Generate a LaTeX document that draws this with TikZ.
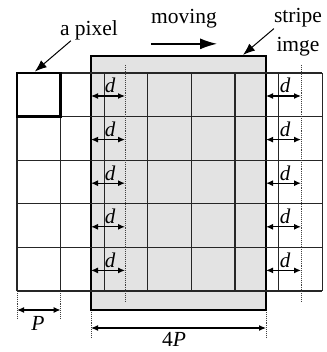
\documentclass[tikz,border=0pt]{standalone}
\usepackage{fontspec}
\setmainfont{Liberation Serif}
\usetikzlibrary{arrows.meta,positioning,calc}

\begin{document}
\begin{tikzpicture}[x=1pt,y=-1pt,>=Latex,
  lbl/.style={font=\fontsize{21.5}{29}\selectfont,inner sep=0pt,align=center},
  dlbl/.style={font=\fontsize{21}{24}\selectfont\itshape,inner sep=0pt,anchor=base},
  cellline/.style={draw=black!85,line width=1.1pt},
  guide/.style={densely dotted,draw=black!75,line width=.9pt},
  dimarr/.style={<->,>={Latex[length=7pt,width=6pt]},line width=1.2pt},
  ptr/.style={->,>={Latex[length=12pt,width=9pt]},line width=1pt}]
\definecolor{stripegray}{gray}{0.89}
\useasboundingbox (0,0) rectangle (326,352);
% stripe image under the grid
\node[draw,line width=2.2pt,fill=stripegray,minimum width=175pt,minimum height=254pt,inner sep=0pt] (strip) at (178.5,183) {};
% pixel grid, 7 x 5 cells of size P
\foreach \i in {0,...,7} \draw[cellline] (17+43.6*\i,73) -- (17+43.6*\i,291);
\foreach \j in {0,...,5} \draw[cellline] (17,73+43.6*\j) -- (322.2,73+43.6*\j);
\node[draw,line width=2.8pt,minimum size=43.6pt,inner sep=0pt] (px) at (38.8,94.8) {};
% shift d in every row
\draw[guide] (125,65) -- (125,301);
\draw[guide] (301,65) -- (301,301);
\foreach \r in {0,...,4} {
  \draw[dimarr] (91,96+43.6*\r) -- (125,96+43.6*\r);
  \node[dlbl] (dl\r) at (110,93+43.6*\r) {d};
  \draw[dimarr] (266,96+43.6*\r) -- (301,96+43.6*\r);
  \node[dlbl] (dr\r) at (285,93+43.6*\r) {d};
}
% sizes
\draw[guide] (17,293) -- (17,318);
\draw[guide] (60.6,293) -- (60.6,318);
\draw[dimarr] (17,310) -- (60.6,310);
\node[lbl,font=\fontsize{21.5}{24}\selectfont\itshape] (p) at (38,323) {P};
\draw[guide] (91,312) -- (91,338);
\draw[guide] (266,312) -- (266,338);
\draw[dimarr] (91,328) -- (266,328);
\node[lbl] (four) at (174,339) {4\textit{P}};
% labels
\node[lbl,anchor=base] (pix) at (89,36) {a pixel};
\node[lbl,anchor=base] (mov) at (184,24) {moving};
\node[lbl] (img) at (298,32.6) {stripe\\imge};
\draw[ptr] ([xshift=11pt]pix.south west) -- ([xshift=-4pt]px.north);
\draw[->,>={Latex[length=17pt,width=11pt]},line width=1.4pt] ([yshift=-15pt]mov.south west) -- ([yshift=-15pt]mov.south east);
\draw[ptr] ([yshift=4pt]img.west) -- ([xshift=64.5pt]strip.north);
\end{tikzpicture}
\end{document}
